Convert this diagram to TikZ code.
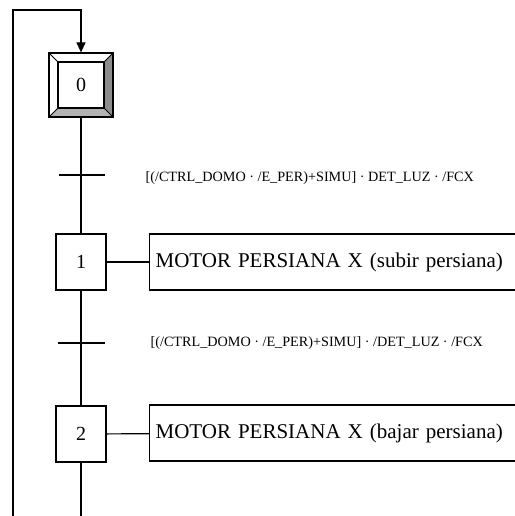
\documentclass[tikz,border=0pt]{standalone}
\usepackage{fontspec}
\setmainfont{Liberation Serif}
\usetikzlibrary{arrows.meta}
\begin{document}
\begin{tikzpicture}[x=1pt,y=-1pt,line width=1.2pt,
    etapa/.style={draw,minimum width=50pt,minimum height=56pt,inner sep=0pt,font=\fontsize{20}{24}\selectfont},
    accion/.style={draw,anchor=west,minimum height=56pt,text width=370pt,inner xsep=6pt,align=left,font=\fontsize{21}{25}\selectfont},
    cond/.style={anchor=west,inner sep=0pt,font=\fontsize{14.2}{17}\selectfont}]
  \useasboundingbox (0,0) rectangle (514,516);
  % etapa inicial (doble, con relieve)
  \fill[black!45] (113,53) -- (113,117) -- (104,108) -- (104,62) -- cycle;
  \fill[black!30] (49,117) -- (113,117) -- (104,108) -- (58,108) -- cycle;
  \node[draw,minimum size=64pt,inner sep=0pt] (e0) at (81,85) {};
  \node[etapa,minimum width=46pt,minimum height=46pt] (e0i) at (81,85) {0};
  \draw[line width=0.8pt] (e0.north west) -- (e0i.north west) (e0.north east) -- (e0i.north east)
        (e0.south west) -- (e0i.south west) (e0.south east) -- (e0i.south east);
  % retorno
  \coordinate (ini) at (13,516);
  \coordinate (esq) at (13,10);
  \draw[-{Triangle[length=10pt,width=9pt]}] (ini) -- (esq) -| (e0.north);
  % transicion 1
  \coordinate (t1) at (81,175);
  \draw ([xshift=-22pt]t1) -- ([xshift=24pt]t1);
  \node[cond] (c1) at (145,178) {[(/CTRL\_DOMO · /E\_PER)+SIMU] · DET\_LUZ · /FCX};
  % etapa 1
  \node[etapa] (e1) at (81,262) {1};
  \node[accion] (a1) at (149,262) {MOTOR PERSIANA X (subir persiana)};
  \draw (e0) -- (e1);
  \draw (e1) -- (a1);
  % transicion 2
  \coordinate (t2) at (81,343);
  \draw ([xshift=-23pt]t2) -- ([xshift=24pt]t2);
  \node[cond] (c2) at (150,343) {[(/CTRL\_DOMO · /E\_PER)+SIMU] · /DET\_LUZ · /FCX};
  % etapa 2
  \node[etapa] (e2) at (81,434) {2};
  \node[accion] (a2) at (149,433) {MOTOR PERSIANA X (bajar persiana)};
  \coordinate (fin) at (81,516);
  \draw (e1) -- (e2);
  \draw (e2) -- (a2);
  \draw (e2) -- (fin);
\end{tikzpicture}
\end{document}
